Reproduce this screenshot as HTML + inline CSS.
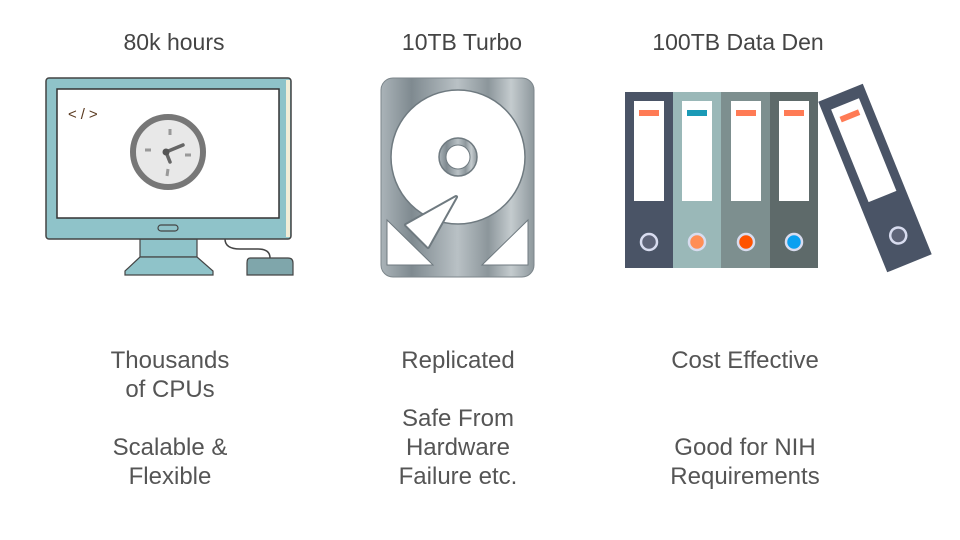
<!DOCTYPE html>
<html><head><meta charset="utf-8"><style>
html,body{margin:0;padding:0;background:#fff;width:960px;height:540px;overflow:hidden}
svg{display:block}
text{font-family:"Liberation Sans",sans-serif}
</style></head><body>
<svg width="960" height="540" viewBox="0 0 960 540" xmlns="http://www.w3.org/2000/svg">
<defs>
<linearGradient id="hg" x1="0" x2="1" y1="0" y2="0">
<stop offset="0" stop-color="#aab3b8"/><stop offset="0.2" stop-color="#7f8a90"/><stop offset="0.5" stop-color="#b9c1c5"/><stop offset="0.7" stop-color="#8c969b"/><stop offset="0.85" stop-color="#c4cbce"/><stop offset="1" stop-color="#8e989d"/>
</linearGradient>
</defs>
<g fill="#444" font-size="23" text-anchor="middle">
<text x="174" y="50">80k hours</text>
<text x="462" y="50">10TB Turbo</text>
<text x="738" y="50">100TB Data Den</text>
</g>
<g fill="#555" font-size="24" text-anchor="middle">
<text x="170" y="368">Thousands</text>
<text x="170" y="397">of CPUs</text>
<text x="170" y="455">Scalable &amp;</text>
<text x="170" y="484">Flexible</text>
<text x="458" y="368">Replicated</text>
<text x="458" y="426">Safe From</text>
<text x="458" y="455">Hardware</text>
<text x="458" y="484">Failure etc.</text>
<text x="745" y="368">Cost Effective</text>
<text x="745" y="455">Good for NIH</text>
<text x="745" y="484">Requirements</text>
</g>
<!-- monitor -->
<path d="M225 239 q0 10 15 10 h18 q12 0 12 9" fill="none" stroke="#444" stroke-width="1.5"/>
<path d="M250 258 h38 q5 0 5 5 v12 h-46 v-12 q0-5 3-5z" fill="#7fa6ab" stroke="#444" stroke-width="1.2"/>
<path d="M140 239 h57 v18 h-57z" fill="#8fc3c9" stroke="#444" stroke-width="1.2"/>
<path d="M140 257 h57 l16 14 v4 h-88 v-4z" fill="#8fc3c9" stroke="#444" stroke-width="1.2"/>
<rect x="46" y="78" width="245" height="161" rx="3" fill="#8fc3c9" stroke="#444" stroke-width="1.5"/>
<rect x="286" y="80" width="4" height="157" fill="#f3edd7"/>
<rect x="57" y="89" width="222" height="129" fill="#fff" stroke="#333" stroke-width="1.5"/>
<rect x="158" y="225" width="20" height="6" rx="3" fill="#8fc3c9" stroke="#444" stroke-width="1.2"/>
<text x="68" y="119" font-size="15" fill="#5a3a20" font-family="Liberation Mono,monospace" letter-spacing="4">&lt;/&gt;</text>
<circle cx="168" cy="152" r="35" fill="#e8e8e8" stroke="#777" stroke-width="6"/>
<g stroke="#999" stroke-width="3"><line x1="170" y1="129" x2="170" y2="135"/><line x1="168" y1="169" x2="167" y2="176"/><line x1="145" y1="150" x2="151" y2="150"/><line x1="185" y1="155" x2="191" y2="155"/></g>
<g stroke="#666" stroke-width="3.5" stroke-linecap="round"><line x1="166" y1="152" x2="183" y2="145"/><line x1="166" y1="152" x2="170" y2="162"/></g>
<circle cx="166" cy="152" r="3.5" fill="#555"/>
<!-- hdd -->
<rect x="381" y="78" width="153" height="199" rx="12" fill="url(#hg)" stroke="#7c868b"/>
<circle cx="458" cy="157" r="67" fill="#fff" stroke="#6f7a80" stroke-width="1.5"/>
<circle cx="458" cy="157" r="19" fill="url(#hg)" stroke="#6f7a80" stroke-width="1.5"/>
<circle cx="458" cy="157" r="12" fill="#fff" stroke="#6f7a80"/>
<path d="M456 197 L406 225 L428 247 Z" fill="#fff" stroke="#6f7a80" stroke-width="4" stroke-linejoin="round"/>
<path d="M456 197 L406 225 L428 247 Z" fill="#fff"/>
<path d="M387 220 V265 H433 Z" fill="#fff" stroke="#6f7a80"/>
<path d="M528 220 V265 H482 Z" fill="#fff" stroke="#6f7a80"/>
<!-- binders -->
<rect x="625" y="92" width="48" height="176" fill="#4a5466"/>
<rect x="673" y="92" width="48" height="176" fill="#9ab8b8"/>
<rect x="721" y="92" width="49" height="176" fill="#7d8f8f"/>
<rect x="770" y="92" width="48" height="176" fill="#5e6a6a"/>
<g fill="#fff"><rect x="634" y="101" width="30" height="100"/><rect x="682" y="101" width="30" height="100"/><rect x="731" y="101" width="30" height="100"/><rect x="779" y="101" width="30" height="100"/></g>
<rect x="639" y="110" width="20" height="6" fill="#ff7b55"/>
<rect x="687" y="110" width="20" height="6" fill="#1a9ab6"/>
<rect x="736" y="110" width="20" height="6" fill="#ff7b55"/>
<rect x="784" y="110" width="20" height="6" fill="#ff7b55"/>
<g stroke="#d8dcef" stroke-width="2.5"><circle cx="649" cy="242" r="8" fill="#5e6478"/><circle cx="697" cy="242" r="8" fill="#ff8e55"/><circle cx="746" cy="242" r="8" fill="#ff5200"/><circle cx="794" cy="242" r="8" fill="#0aa0f0"/></g>
<g transform="translate(875 178) rotate(-22)">
<rect x="-24" y="-92" width="48" height="184" fill="#4a5466"/>
<rect x="-15" y="-80" width="30" height="100" fill="#fff"/>
<rect x="-10" y="-70" width="20" height="6" fill="#ff7b55"/>
<circle cx="0" cy="62" r="8" fill="#5e6478" stroke="#d8dcef" stroke-width="2.5"/>
</g>
</svg>
</body></html>
